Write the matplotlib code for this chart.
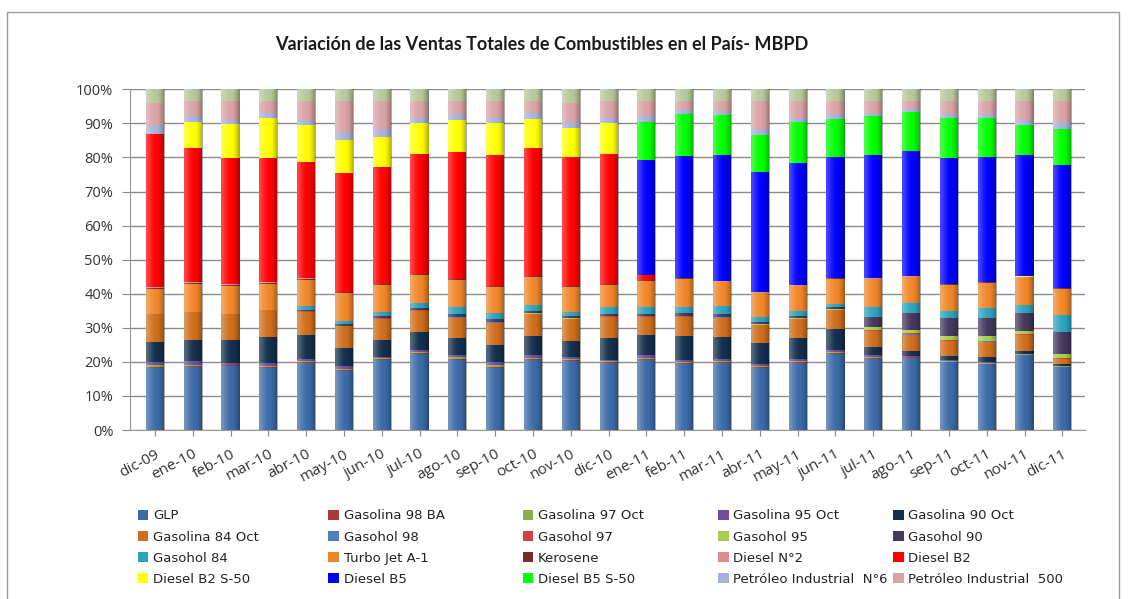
import numpy as np
import matplotlib
matplotlib.use('Agg')
import matplotlib.pyplot as plt
from matplotlib.patches import Rectangle
from matplotlib.ticker import PercentFormatter

months = ['dic-09', 'ene-10', 'feb-10', 'mar-10', 'abr-10', 'may-10', 'jun-10', 'jul-10',
          'ago-10', 'sep-10', 'oct-10', 'nov-10', 'dic-10', 'ene-11', 'feb-11', 'mar-11',
          'abr-11', 'may-11', 'jun-11', 'jul-11', 'ago-11', 'sep-11', 'oct-11', 'nov-11', 'dic-11']

# share of total sales (%)
glp = [18.2, 18.4, 18.7, 18.2, 19.7, 17.4, 20.7, 22.4, 20.7, 18.2, 20.7, 20.4, 19.7,
       20.7, 19.4, 19.7, 18.2, 19.7, 22.4, 21.0, 21.2, 20.0, 19.4, 22.0, 18.4]
gas98 = [0.4, 0.4, 0.3, 0.3, 0.3, 0.3, 0.2, 0.3, 0.3, 0.4, 0.3, 0.3, 0.3,
         0.3, 0.3, 0.3, 0.3, 0.3, 0.3, 0.3, 0.2, 0.2, 0.2, 0.2, 0.1]
gas97 = [0.4, 0.4, 0.2, 0.3, 0.3, 0.3, 0.2, 0.3, 0.3, 0.4, 0.3, 0.2, 0.2,
         0.3, 0.3, 0.3, 0.3, 0.3, 0.3, 0.3, 0.2, 0.2, 0.2, 0.1, 0.1]
gas95 = [1.0, 1.0, 0.5, 0.9, 0.7, 0.7, 0.3, 0.6, 0.7, 1.0, 0.7, 0.5, 0.5,
         0.7, 0.7, 0.7, 0.6, 0.7, 0.6, 0.6, 0.2, 0.2, 0.2, 0.2, 0.2]
gas90 = [5.9, 6.1, 6.6, 7.6, 7.0, 5.3, 5.2, 5.3, 4.9, 4.9, 5.6, 4.7, 6.2,
         5.9, 6.9, 6.3, 6.2, 5.9, 6.0, 2.4, 1.4, 1.1, 1.4, 0.8, 0.5]
gas84 = [8.1, 8.2, 7.9, 7.9, 6.7, 6.5, 6.1, 6.1, 6.1, 6.6, 6.4, 6.4, 6.3,
         5.3, 5.6, 5.7, 5.2, 5.6, 5.6, 4.5, 4.9, 4.4, 4.5, 4.6, 1.4]
gh98 = [0.0, 0.0, 0.0, 0.0, 0.1, 0.1, 0.1, 0.1, 0.1, 0.1, 0.1, 0.1, 0.1,
        0.1, 0.1, 0.1, 0.1, 0.1, 0.1, 0.2, 0.2, 0.2, 0.2, 0.2, 0.2]
gh97 = [0.0, 0.0, 0.0, 0.0, 0.1, 0.1, 0.1, 0.1, 0.1, 0.1, 0.1, 0.1, 0.1,
        0.1, 0.1, 0.1, 0.1, 0.1, 0.1, 0.2, 0.2, 0.2, 0.2, 0.2, 0.2]
gh95 = [0.0, 0.0, 0.0, 0.0, 0.0, 0.0, 0.0, 0.1, 0.1, 0.1, 0.1, 0.1, 0.1,
        0.1, 0.1, 0.1, 0.1, 0.1, 0.2, 1.0, 0.9, 1.2, 1.4, 1.0, 1.3]
gh90 = [0.0, 0.0, 0.0, 0.0, 0.5, 0.5, 0.6, 0.6, 0.7, 0.7, 0.7, 0.6, 0.7,
        0.7, 0.8, 0.9, 0.6, 0.6, 0.6, 2.9, 5.2, 5.2, 5.2, 5.1, 6.4]
gh84 = [0.0, 0.0, 0.0, 0.0, 1.2, 0.8, 1.2, 1.4, 2.0, 1.8, 1.6, 1.2, 1.9,
        1.9, 1.8, 2.1, 1.6, 1.5, 1.0, 3.0, 2.9, 2.3, 3.0, 2.5, 4.9]
turbo = [7.4, 8.5, 8.2, 7.8, 7.6, 8.2, 7.9, 8.3, 8.0, 7.7, 8.3, 7.4, 6.4,
         7.8, 8.3, 7.1, 6.9, 7.3, 7.3, 8.0, 7.5, 7.6, 7.4, 7.8, 7.7]
kero = [0.3, 0.3, 0.3, 0.3, 0.3, 0.3, 0.3, 0.3, 0.3, 0.3, 0.3, 0.3, 0.3,
        0.2, 0.2, 0.2, 0.2, 0.2, 0.2, 0.2, 0.2, 0.2, 0.2, 0.2, 0.2]
dn2 = [0.2, 0.1, 0.1, 0.1, 0.1, 0.1, 0.1, 0.1, 0.1, 0.1, 0.1, 0.1, 0.1,
       0.1, 0.1, 0.1, 0.1, 0.1, 0.1, 0.1, 0.1, 0.1, 0.1, 0.1, 0.1]
db2 = [45.1, 39.4, 37.0, 36.4, 34.1, 35.0, 34.3, 35.1, 37.1, 38.5, 37.6, 37.8, 38.3,
       1.2, 0.0, 0.0, 0.0, 0.0, 0.0, 0.0, 0.0, 0.0, 0.0, 0.0, 0.0]
db2s50 = [0.0, 7.5, 9.9, 11.8, 10.9, 9.6, 8.9, 9.3, 9.4, 9.3, 8.5, 8.6, 9.0,
          0.0, 0.0, 0.0, 0.0, 0.0, 0.0, 0.0, 0.0, 0.0, 0.0, 0.4, 0.0]
db5 = [0.0, 0.0, 0.0, 0.0, 0.0, 0.0, 0.0, 0.0, 0.0, 0.0, 0.0, 0.0, 0.0,
       33.8, 35.9, 37.2, 35.2, 35.9, 35.5, 36.2, 36.9, 37.1, 36.9, 35.5, 35.8]
db5s50 = [0.0, 0.0, 0.0, 0.0, 0.0, 0.0, 0.0, 0.0, 0.0, 0.0, 0.0, 0.0, 0.0,
          11.2, 12.1, 11.5, 11.1, 12.0, 11.2, 11.6, 11.5, 11.8, 11.5, 8.9, 10.6]
pi6 = [2.4, 1.8, 1.4, 1.5, 1.6, 2.2, 2.2, 1.5, 1.7, 1.5, 1.8, 1.6, 1.5,
       1.8, 1.3, 1.3, 1.5, 1.3, 1.3, 1.0, 1.0, 1.0, 1.0, 1.5, 1.9]
pi500 = [6.6, 4.4, 5.4, 3.4, 5.5, 9.3, 8.3, 4.9, 3.9, 4.9, 3.4, 5.7, 4.9,
         4.4, 2.6, 2.9, 8.3, 4.9, 3.9, 3.4, 2.2, 3.9, 3.9, 5.6, 6.2]
others = [4.0, 3.5, 3.5, 3.5, 3.5, 3.5, 3.5, 3.5, 3.5, 3.5, 3.5, 4.0, 3.5,
          3.5, 3.5, 3.5, 3.5, 3.5, 3.5, 3.5, 3.5, 3.5, 3.5, 3.5, 3.5]

series = [
    ('GLP', glp, '#3D6BA8'),
    ('Gasolina 98 BA', gas98, '#A8383A'),
    ('Gasolina 97 Oct', gas97, '#8DAE48'),
    ('Gasolina 95 Oct', gas95, '#6E4F9C'),
    ('Gasolina 90 Oct', gas90, '#14304F'),
    ('Gasolina 84 Oct', gas84, '#CF6E1C'),
    ('Gasohol 98', gh98, '#4F7FC0'),
    ('Gasohol 97', gh97, '#D5413E'),
    ('Gasohol 95', gh95, '#A8CC4E'),
    ('Gasohol 90', gh90, '#45385E'),
    ('Gasohol 84', gh84, '#2CA3BE'),
    ('Turbo Jet A-1', turbo, '#F0862A'),
    ('Kerosene', kero, '#7A2B2E'),
    ('Diesel N°2', dn2, '#E08C8A'),
    ('Diesel B2', db2, '#FF0000'),
    ('Diesel B2 S-50', db2s50, '#FFFF00'),
    ('Diesel B5', db5, '#0000FF'),
    ('Diesel B5 S-50', db5s50, '#00FF00'),
    ('Petróleo Industrial  N°6', pi6, '#A7B2DA'),
    ('Petróleo Industrial  500', pi500, '#D9A3A5'),
    ('_nolegend_', others, '#B8C79B'),
]

data = np.array([s[1] for s in series], dtype=float)
data = data / data.sum(axis=0) * 100

fig = plt.figure(figsize=(11.36, 5.99), dpi=100)
ax = fig.add_axes([0.1144, 0.282, 0.8407, 0.569])

x = np.arange(len(months))
w = 0.48
bottom = np.zeros(len(months))
handles = []
for (name, _, color), vals in zip(series, data):
    b = ax.bar(x, vals, w, bottom=bottom, color=color, label=name, zorder=3, linewidth=0)
    bottom += vals
    if name != '_nolegend_':
        handles.append(b)

# cylinder-like shading
grad = np.linspace(-1, 1, 64)
shade = np.zeros((1, 64, 4))
shade[0, :, 3] = np.clip(np.abs(grad - 0.15) ** 1.6 * 0.45, 0, 0.45)
shade[0, grad > 0.15, :3] = 0.0
shade[0, grad <= 0.15, :3] = 1.0
shade[0, grad <= 0.15, 3] *= 0.6
for xi in x:
    ax.imshow(shade, extent=(xi - w / 2, xi + w / 2, 0, 100), aspect='auto', zorder=4,
              interpolation='bilinear')

ax.set_xlim(-0.66, 24.6)
ax.set_ylim(0, 100)
ax.set_yticks(np.arange(0, 101, 10))
ax.yaxis.set_major_formatter(PercentFormatter(decimals=0))
ax.set_xticks(x)
ax.set_xticklabels(months, rotation=28, ha='right', rotation_mode='anchor', fontsize=11,
                   color='#333333', family='Open Sans')
ax.tick_params(axis='y', labelsize=10.5, labelcolor='#333333', length=6, color='#888888', pad=6)
ax.tick_params(axis='x', length=4, color='#888888', pad=8)
for lab in ax.get_yticklabels():
    lab.set_family('Open Sans')
ax.grid(axis='y', color='#8c8c8c', linewidth=1, zorder=0)
ax.set_axisbelow(True)
for side in ['top', 'right']:
    ax.spines[side].set_visible(False)
ax.spines['left'].set_color('#999999')
ax.spines['bottom'].set_color('#999999')

fig.text(0.477, 0.925, 'Variación de las Ventas Totales de Combustibles en el País- MBPD',
         ha='center', va='center', fontsize=13, fontweight='bold', family='Lato', color='#1a1a1a')

# legend: 5 columns of 4 entries, filled row by row
ncol = 5
col_x = [0.113, 0.281, 0.452, 0.624, 0.778]
for c in range(ncol):
    idx = [r * ncol + c for r in range(4)]
    leg = fig.legend([handles[i] for i in idx], [series[i][0] for i in idx],
                     loc='upper left', bbox_to_anchor=(col_x[c], 0.165), frameon=False,
                     handlelength=0.8, handleheight=0.8, handletextpad=0.35,
                     labelspacing=0.62, borderpad=0.2,
                     prop={'family': 'DejaVu Sans', 'size': 9.5})
    for t in leg.get_texts():
        t.set_color('#222222')

fig.patches.append(Rectangle((0.006, -0.05), 0.979, 1.03, transform=fig.transFigure,
                             fill=False, edgecolor='#9a9a9a', linewidth=1))

fig.savefig('out.png', dpi=100)
